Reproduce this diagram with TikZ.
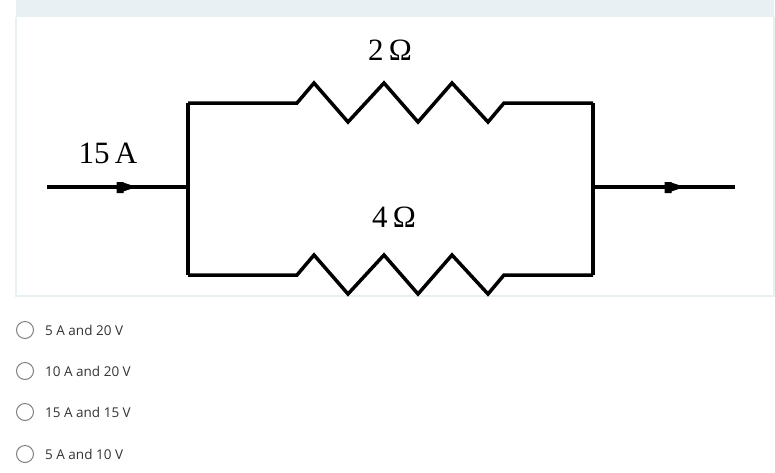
\documentclass[tikz,border=0pt]{standalone}
\usepackage{fontspec}
\setmainfont{Liberation Serif}
\newfontfamily\uifont{Open Sans}
\usetikzlibrary{arrows.meta}
\begin{document}
\begin{tikzpicture}[x=1pt,y=-1pt,
  wire/.style={line width=3.5pt,line join=miter},
  lbl/.style={font=\fontsize{31}{31}\selectfont,inner sep=0pt},
  opt/.style={font=\uifont\fontsize{13.5}{13.5}\selectfont,text=black!80,anchor=west,inner sep=0pt},
  radio/.style={draw=black!50,line width=1pt,circle,minimum size=17pt,inner sep=0pt},
  tipbox/.style={fill=black,draw=black,line width=1pt}]
\useasboundingbox (0,0) rectangle (775,472);
\fill[fill={rgb,255:red,232;green,240;blue,243}] (16,0) rectangle (774,17);
\draw[draw={rgb,255:red,232;green,240;blue,243},line width=2pt] (16,17) -- (16,296) -- (774,296) -- (774,17);
\coordinate (in) at (47,187);
\coordinate (out) at (735,187);
\coordinate (jl) at (188,187);
\coordinate (jr) at (593,187);
\coordinate (tl) at (188,103);
\coordinate (tr) at (593,103);
\coordinate (bl) at (188,275);
\coordinate (br) at (593,275);
\coordinate (r1a) at (297,103); \coordinate (r1b) at (504,103);
\coordinate (r2a) at (297,275); \coordinate (r2b) at (504,275);
\coordinate (a1) at (117,187);
\coordinate (a2) at (665,187);
\draw[wire] (in) -- (jl);
\draw[wire] (jr) -- (out);
\draw[tipbox] (a1) ++(0,-4.5) rectangle ++(6,10) (a1) ++(6,-4) -- ++(12,4) -- ++(-12,4) -- cycle;
\draw[tipbox] (a2) ++(0,-4.5) rectangle ++(6,10) (a2) ++(6,-4) -- ++(12,4) -- ++(-12,4) -- cycle;
\draw[wire] (tl) -- (bl);
\draw[wire] (tr) -- (br);
\draw[wire] (tl) -- (r1a) -- ++(17,-20) -- ++(34,39) -- ++(36,-39) -- ++(34,39) -- ++(34,-39) -- ++(36,39) -- (r1b) -- (tr);
\draw[wire] (bl) -- (r2a) -- ++(17,-20) -- ++(34,39) -- ++(36,-39) -- ++(34,39) -- ++(34,-39) -- ++(36,39) -- (r2b) -- (br);
\node[lbl] (l2) at (390,50) {2\,Ω};
\node[lbl] (l15) at (108,153) {15\,A};
\node[lbl] (l4) at (394,217) {4\,Ω};
\node[radio] (c1) at (25,330) {};
\node[radio] (c2) at (25,371) {};
\node[radio] (c3) at (25,412) {};
\node[radio] (c4) at (25,454) {};
\node[opt] (o1) at (45,330) {5 A and 20 V};
\node[opt] (o2) at (45,371) {10 A and 20 V};
\node[opt] (o3) at (45,412) {15 A and 15 V};
\node[opt] (o4) at (45,454) {5 A and 10 V};
\end{tikzpicture}
\end{document}
